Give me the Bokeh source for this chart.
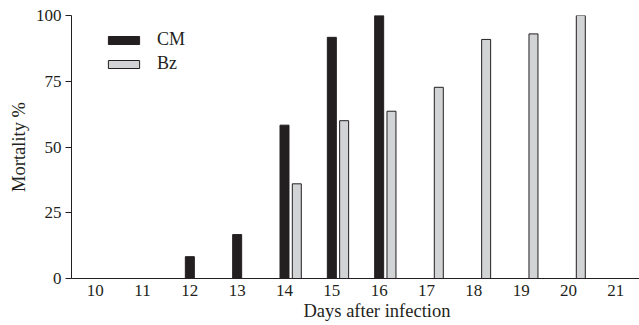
from bokeh.plotting import figure
from bokeh.models import ColumnDataSource, Range1d, Legend, LegendItem, FixedTicker, Title
from bokeh.transform import dodge
from bokeh.embed import file_html
from bokeh.resources import INLINE

days = [10, 11, 12, 13, 14, 15, 16, 17, 18, 19, 20, 21]
cm = [0, 0, 8.3, 16.7, 58.3, 91.7, 100, 0, 0, 0, 0, 0]
bz = [0, 0, 0, 0, 36, 60, 63.6, 72.7, 90.9, 93, 100, 0]
y_ticks = [0, 25, 50, 75, 100]

FONT = "Liberation Serif"

src = ColumnDataSource(data=dict(day=days, cm=cm, bz=bz))

p = figure(width=639, height=325, output_backend="svg", toolbar_location=None,
           x_range=Range1d(9.5, 21.5), y_range=Range1d(0, 100),
           min_border_left=71, min_border_right=0, min_border_top=15, min_border_bottom=47)

r_cm = p.vbar(x=dodge("day", 0.0), top="cm", width=0.19, source=src,
              fill_color="#231f20", line_color="#231f20", line_width=1)
r_bz = p.vbar(x=dodge("day", 0.26), top="bz", width=0.19, source=src,
              fill_color="#d1d3d4", line_color="#231f20", line_width=1)

p.xgrid.visible = False
p.ygrid.visible = False
p.outline_line_color = None

p.xaxis.ticker = FixedTicker(ticks=days)
p.xaxis.major_tick_out = 0
p.xaxis.major_tick_in = 0
p.xaxis.minor_tick_out = 0
p.xaxis.minor_tick_in = 0
p.xaxis.major_label_standoff = 6

p.yaxis.ticker = FixedTicker(ticks=y_ticks)
p.yaxis.major_tick_out = 6
p.yaxis.major_tick_in = 0
p.yaxis.minor_tick_out = 0
p.yaxis.minor_tick_in = 0
p.yaxis.axis_label = "Mortality %"
p.yaxis.major_label_standoff = 4
p.yaxis.axis_label_standoff = 4

for ax in (p.xaxis[0], p.yaxis[0]):
    ax.axis_line_color = "#231f20"
    ax.major_tick_line_color = "#231f20"
    ax.major_label_text_font = FONT
    ax.major_label_text_font_size = "17px"
    ax.major_label_text_color = "#231f20"
    ax.axis_label_text_font = FONT
    ax.axis_label_text_font_size = "18.5px"
    ax.axis_label_text_font_style = "normal"
    ax.axis_label_text_color = "#231f20"

xtitle = Title(text="Days after infection", align="left", offset=232,
               text_font=FONT, text_font_size="18.5px", text_font_style="normal",
               text_color="#231f20", standoff=0)
p.add_layout(xtitle, "below")

legend = Legend(items=[LegendItem(label="CM", renderers=[r_cm]),
                       LegendItem(label="Bz", renderers=[r_bz])],
                location=(33, 204), glyph_width=39, glyph_height=10,
                label_text_font=FONT, label_text_font_size="18px",
                label_text_color="#231f20", label_standoff=14,
                padding=0, margin=0, spacing=3, label_height=20,
                border_line_color=None, background_fill_alpha=0)
p.add_layout(legend)

open("out.html", "w").write(file_html(p, INLINE))
